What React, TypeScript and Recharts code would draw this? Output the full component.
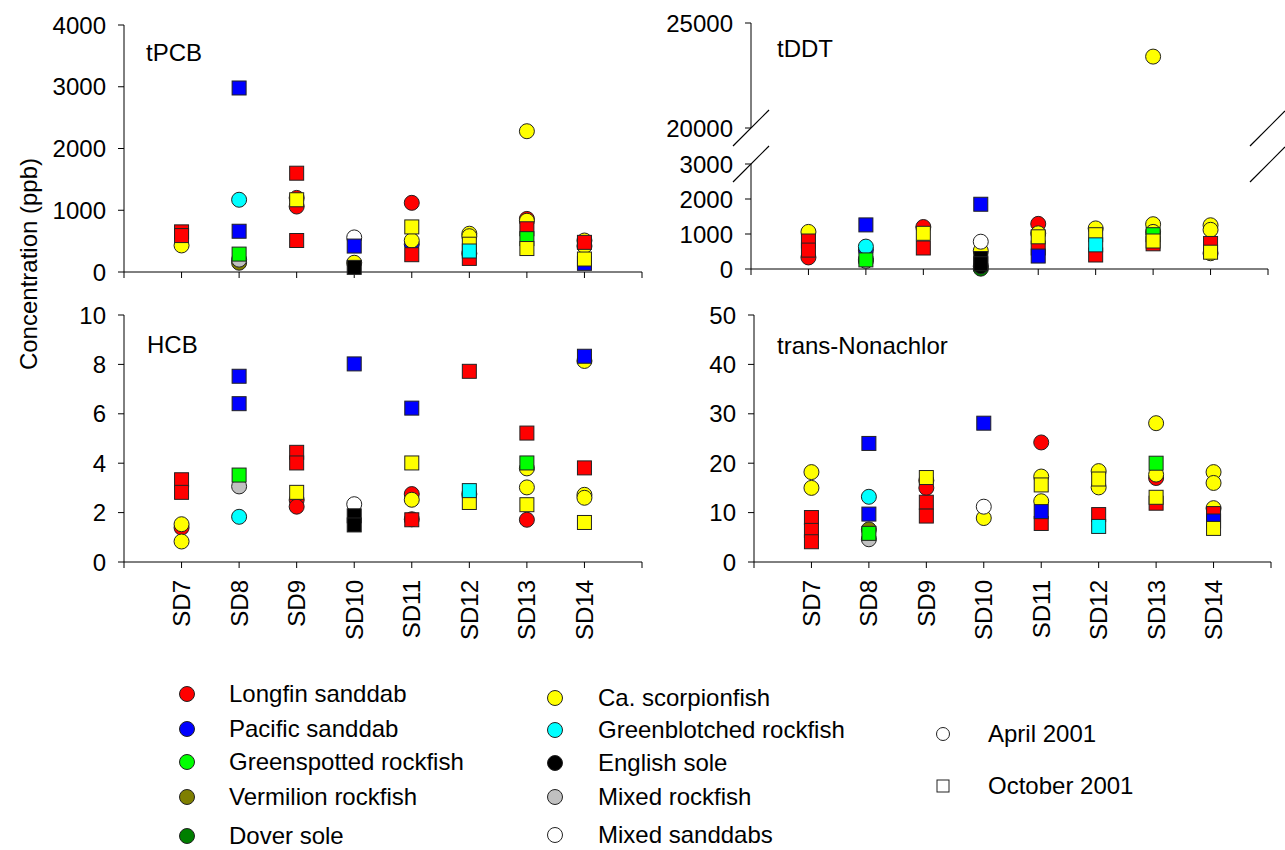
import React from "react";
import { ScatterChart, Scatter, XAxis, YAxis } from "recharts";

const FONT = "'Liberation Sans', Arial, sans-serif";

const stationTicks = [6, 7, 8, 9, 10, 11, 12, 13, 14, 15];

const species = [
  "Longfin sanddab",
  "Pacific sanddab",
  "Greenspotted rockfish",
  "Vermilion rockfish",
  "Dover sole",
  "Ca. scorpionfish",
  "Greenblotched rockfish",
  "English sole",
  "Mixed rockfish",
  "Mixed sanddabs",
];
const speciesColors = ["#ff0000", "#0000ff", "#00ff00", "#7f7f00", "#007f00", "#ffff00", "#00ffff", "#000000", "#c0c0c0", "#ffffff"];
const seasons = ["April 2001", "October 2001"];

// [station, species index, season (0 = April, 1 = October), concentration ppb]
type Row = [number, number, number, number];

const tpcb: Row[] = [
  [7, 0, 1, 650], [7, 0, 1, 590], [7, 5, 0, 430],
  [8, 1, 1, 2980], [8, 6, 0, 1170], [8, 1, 1, 660], [8, 2, 1, 290], [8, 3, 0, 150], [8, 8, 0, 200],
  [9, 0, 1, 1600], [9, 0, 0, 1200], [9, 0, 0, 1060], [9, 5, 1, 1170], [9, 0, 1, 510],
  [10, 9, 0, 560], [10, 1, 1, 420], [10, 5, 0, 150], [10, 7, 1, 75],
  [11, 0, 0, 1120], [11, 5, 1, 730], [11, 1, 0, 450], [11, 5, 0, 510], [11, 0, 1, 280],
  [12, 5, 0, 620], [12, 5, 0, 580], [12, 5, 1, 450], [12, 6, 1, 340], [12, 0, 0, 300], [12, 0, 1, 220],
  [13, 5, 0, 2280], [13, 0, 0, 860], [13, 5, 0, 830], [13, 0, 1, 700], [13, 2, 1, 540], [13, 5, 1, 380],
  [14, 5, 0, 510], [14, 0, 1, 480], [14, 5, 0, 420], [14, 5, 1, 210], [14, 1, 1, 140],
];

const tddt: Row[] = [
  [7, 5, 0, 1060], [7, 0, 1, 800], [7, 0, 1, 540], [7, 0, 0, 330],
  [8, 1, 1, 1260], [8, 6, 0, 640], [8, 1, 0, 540], [8, 2, 1, 260], [8, 3, 0, 280], [8, 8, 0, 230],
  [9, 0, 0, 1200], [9, 5, 1, 1020], [9, 0, 1, 600],
  [10, 1, 1, 1850], [10, 9, 0, 780], [10, 5, 0, 520], [10, 7, 1, 300], [10, 7, 1, 150], [10, 7, 0, 80], [10, 4, 0, 10],
  [11, 0, 0, 1290], [11, 5, 0, 1020], [11, 5, 1, 920], [11, 0, 1, 600], [11, 1, 1, 370],
  [12, 5, 0, 1160], [12, 5, 1, 980], [12, 6, 1, 690], [12, 0, 1, 400],
  [13, 5, 0, 23400], [13, 5, 0, 1280], [13, 5, 0, 1060], [13, 2, 1, 980], [13, 5, 1, 800], [13, 0, 1, 720],
  [14, 5, 0, 1250], [14, 5, 0, 1120], [14, 0, 1, 730], [14, 5, 0, 450], [14, 5, 1, 480],
];

const hcb: Row[] = [
  [7, 0, 1, 3.33], [7, 0, 1, 2.82], [7, 0, 0, 1.39], [7, 5, 0, 1.53], [7, 5, 0, 0.83],
  [8, 1, 1, 7.52], [8, 1, 1, 6.41], [8, 2, 1, 3.52], [8, 8, 0, 3.06], [8, 6, 0, 1.83],
  [9, 0, 1, 4.44], [9, 0, 1, 4.01], [9, 5, 1, 2.82], [9, 0, 0, 2.51], [9, 0, 0, 2.24],
  [10, 1, 1, 8.02], [10, 9, 0, 2.34], [10, 7, 1, 1.87], [10, 7, 1, 1.5],
  [11, 1, 1, 6.23], [11, 5, 1, 4.01], [11, 0, 0, 2.75], [11, 5, 0, 2.52], [11, 0, 0, 1.73], [11, 0, 1, 1.71],
  [12, 0, 1, 7.72], [12, 5, 0, 2.75], [12, 6, 1, 2.89], [12, 5, 1, 2.41],
  [13, 0, 1, 5.22], [13, 2, 1, 4.01], [13, 5, 0, 3.79], [13, 5, 0, 3.02], [13, 5, 1, 2.32], [13, 0, 0, 1.71],
  [14, 1, 1, 8.33], [14, 5, 0, 8.14], [14, 0, 1, 3.81], [14, 5, 0, 2.72], [14, 5, 0, 2.6], [14, 5, 1, 1.6],
];

const nonachlor: Row[] = [
  [7, 5, 0, 18.2], [7, 5, 0, 15.0], [7, 0, 1, 9.0], [7, 0, 1, 6.4], [7, 0, 1, 4.1],
  [8, 1, 1, 24.0], [8, 6, 0, 13.2], [8, 1, 1, 9.7], [8, 3, 0, 6.6], [8, 2, 1, 5.8], [8, 8, 0, 4.6],
  [9, 5, 1, 17.1], [9, 0, 0, 16.5], [9, 0, 0, 15.0], [9, 0, 1, 12.1], [9, 0, 1, 9.3],
  [10, 1, 1, 28.1], [10, 9, 0, 11.2], [10, 5, 0, 8.9],
  [11, 0, 0, 24.2], [11, 5, 0, 17.3], [11, 5, 1, 15.6], [11, 5, 0, 12.3], [11, 1, 1, 10.2], [11, 0, 1, 7.8],
  [12, 5, 0, 18.4], [12, 5, 1, 16.8], [12, 5, 0, 15.1], [12, 0, 1, 9.6], [12, 6, 1, 7.2],
  [13, 5, 0, 28.1], [13, 2, 1, 20.0], [13, 0, 0, 17.0], [13, 5, 0, 17.7], [13, 5, 1, 13.1], [13, 0, 1, 11.9],
  [14, 5, 0, 18.2], [14, 5, 0, 16.0], [14, 5, 0, 10.9], [14, 0, 1, 9.8], [14, 1, 1, 8.3], [14, 5, 1, 6.8],
];

// circles (April) first, then squares (October), each in legend order
const toSeries = (rows: Row[]) => {
  const out: { key: string; season: number; sp: number; data: { x: number; y: number }[] }[] = [];
  for (let s = 0; s < seasons.length; s++) {
    for (let k = 0; k < species.length; k++) {
      const data = rows.filter((r) => r[1] === k && r[2] === s).map((r) => ({ x: r[0], y: r[3] }));
      if (data.length) out.push({ key: `${s}-${k}`, season: s, sp: k, data });
    }
  }
  return out;
};

const circleShape = (fill: string) => (p: any) => (
  <circle cx={p.cx} cy={p.cy} r={7.5} fill={fill} stroke="#222" strokeWidth={1} />
);
const squareShape = (fill: string) => (p: any) => (
  <rect x={p.cx - 7} y={p.cy - 7} width={14} height={14} fill={fill} stroke="#222" strokeWidth={1} />
);

const StationTick = (p: any) => {
  const v = p.payload.value;
  if (v < 7 || v > 14) return <g />;
  return (
    <text
      x={p.x}
      y={p.y}
      transform={`rotate(-90, ${p.x}, ${p.y})`}
      textAnchor="end"
      dy="0.35em"
      fontSize={24}
      fontFamily={FONT}
      fill="#000"
    >
      {`SD${v}`}
    </text>
  );
};
const NoTick = () => <g />;

interface PanelProps {
  rows: Row[];
  left: number;
  top: number;
  width: number;
  height: number;
  marginTop: number;
  marginRight: number;
  marginBottom?: number;
  domain: [number, number];
  ticks: number[];
  xHeight: number;
  labels?: boolean;
  topLine?: boolean;
  hideX?: boolean;
}

const Panel = ({ rows, left, top, width, height, marginTop, marginRight, marginBottom = 0, domain, ticks, xHeight, labels, topLine = true, hideX }: PanelProps) => (
  <div style={{ position: "absolute", left, top }}>
    <ScatterChart width={width} height={height} margin={{ top: marginTop, right: marginRight, bottom: marginBottom, left: 0 }}>
      <XAxis
        type="number"
        dataKey="x"
        domain={[6, 15]}
        ticks={stationTicks}
        interval={0}
        hide={hideX}
        height={xHeight}
        tickSize={6}
        tickMargin={12}
        axisLine={{ stroke: "#000" }}
        tickLine={{ stroke: "#000" }}
        tick={labels ? StationTick : NoTick}
      />
      {topLine && (
        <XAxis
          xAxisId="top"
          orientation="top"
          type="number"
          domain={[6, 15]}
          height={0}
          tick={false}
          tickLine={false}
          axisLine={{ stroke: "#000" }}
        />
      )}
      <YAxis
        type="number"
        dataKey="y"
        domain={domain}
        ticks={ticks}
        interval={0}
        width={124}
        tickSize={6}
        tickMargin={12}
        axisLine={{ stroke: "#000" }}
        tickLine={{ stroke: "#000" }}
        tick={{ fontSize: 24, fill: "#000", fontFamily: FONT }}
      />
      <YAxis
        yAxisId="right"
        orientation="right"
        type="number"
        domain={domain}
        width={0}
        tick={false}
        tickLine={false}
        axisLine={{ stroke: "#000" }}
      />
      {toSeries(rows).map((s) => (
        <Scatter
          key={s.key}
          data={s.data}
          isAnimationActive={false}
          shape={s.season === 0 ? circleShape(speciesColors[s.sp]) : squareShape(speciesColors[s.sp])}
        />
      ))}
    </ScatterChart>
  </div>
);

const legendCol1 = [0, 1, 2, 3, 4];
const legendCol2 = [5, 6, 7, 8, 9];
const legendY1 = [694, 729, 762, 797, 836];
const legendY2 = [698, 730, 763, 797, 835];

const Overlay = () => (
  <svg width={1285} height={850} style={{ position: "absolute", left: 0, top: 0, pointerEvents: "none" }} fontFamily={FONT}>
    <text x={29} y={264} transform="rotate(-90, 29, 264)" textAnchor="middle" dy="0.35em" fontSize={24} fill="#000">
      Concentration (ppb)
    </text>
    <text x={146} y={61} fontSize={24} fill="#000">tPCB</text>
    <text x={777} y={57} fontSize={24} fill="#000">tDDT</text>
    <text x={147} y={353} fontSize={24} fill="#000">HCB</text>
    <text x={777} y={354} fontSize={24} fill="#000">trans-Nonachlor</text>
    {/* axis break marks */}
    <g stroke="#000" strokeWidth={1.2}>
      <line x1={733} y1={146} x2={769} y2={110} />
      <line x1={733} y1={182} x2={769} y2={146} />
      <line x1={1250} y1={146} x2={1285} y2={111} />
      <line x1={1250} y1={182} x2={1285} y2={147} />
    </g>
    {legendCol1.map((k, i) => (
      <g key={k}>
        <circle cx={187} cy={legendY1[i]} r={7.5} fill={speciesColors[k]} stroke="#222" />
        <text x={229} y={legendY1[i]} dy="0.35em" fontSize={24} fill="#000">{species[k]}</text>
      </g>
    ))}
    {legendCol2.map((k, i) => (
      <g key={k}>
        <circle cx={555} cy={legendY2[i]} r={7.5} fill={speciesColors[k]} stroke="#222" />
        <text x={598} y={legendY2[i]} dy="0.35em" fontSize={24} fill="#000">{species[k]}</text>
      </g>
    ))}
    <circle cx={943} cy={734} r={6.5} fill="#fff" stroke="#222" />
    <text x={988} y={734} dy="0.35em" fontSize={24} fill="#000">{seasons[0]}</text>
    <rect x={937} y={780} width={12} height={12} fill="#fff" stroke="#222" />
    <text x={988} y={786} dy="0.35em" fontSize={24} fill="#000">{seasons[1]}</text>
  </svg>
);

export default function App() {
  return (
    <div style={{ position: "fixed", left: 0, top: 0, width: 1285, height: 850, background: "#fff", overflow: "hidden" }}>
      <Panel rows={tpcb} left={0} top={0} width={660} height={302} marginTop={25} marginRight={18}
        domain={[0, 4000]} ticks={[0, 1000, 2000, 3000, 4000]} xHeight={30} />
      <Panel rows={tddt.filter((r) => r[3] >= 20000)} left={627} top={0} width={651} height={144} marginTop={23} marginRight={10} marginBottom={16}
        domain={[20000, 25000]} ticks={[20000, 25000]} xHeight={0} hideX />
      <Panel rows={tddt.filter((r) => r[3] < 20000)} left={627} top={140} width={651} height={159} marginTop={24} marginRight={10}
        domain={[0, 3000]} ticks={[0, 1000, 2000, 3000]} xHeight={30} topLine={false} />
      <Panel rows={hcb} left={0} top={290} width={660} height={362} marginTop={25} marginRight={18}
        domain={[0, 10]} ticks={[0, 2, 4, 6, 8, 10]} xHeight={90} labels />
      <Panel rows={nonachlor} left={630} top={290} width={651} height={362} marginTop={25} marginRight={10}
        domain={[0, 50]} ticks={[0, 10, 20, 30, 40, 50]} xHeight={90} labels />
      <Overlay />
    </div>
  );
}
